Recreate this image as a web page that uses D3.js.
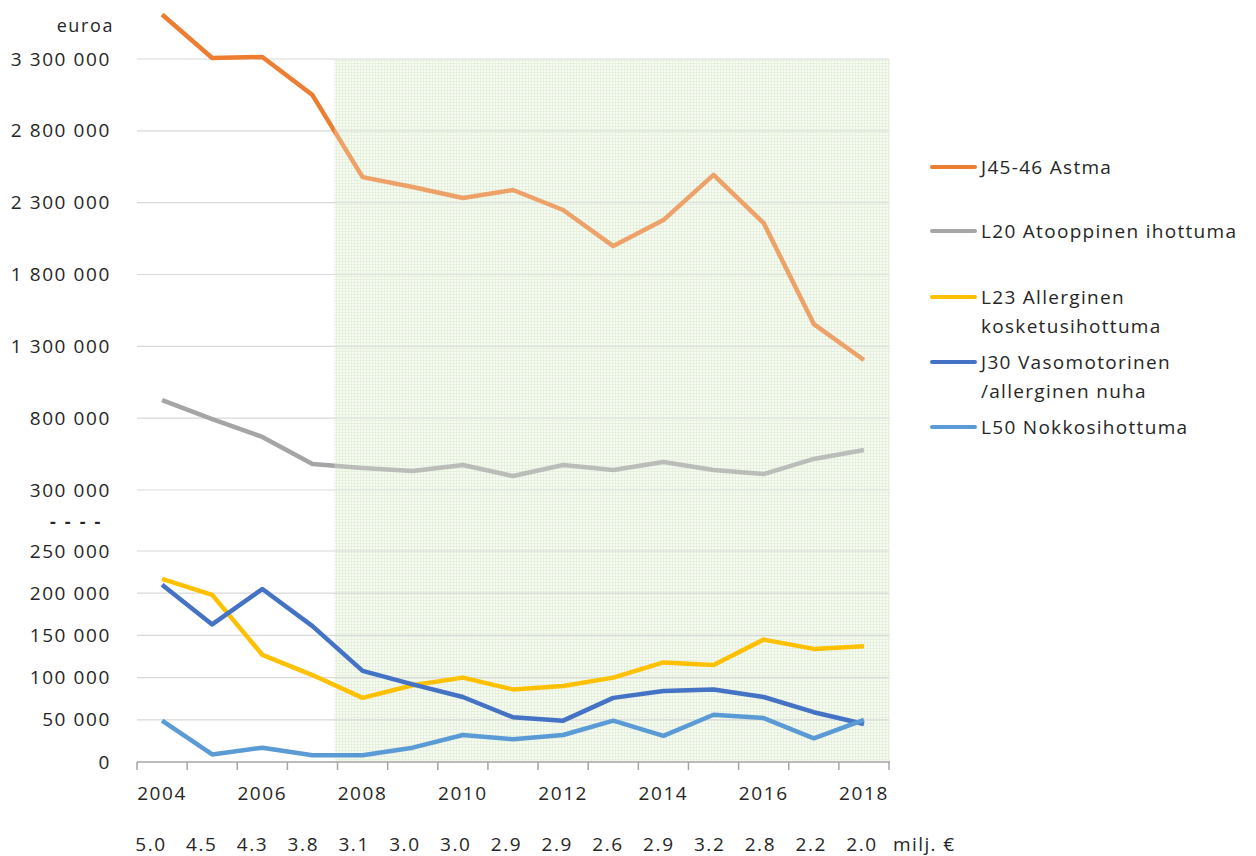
<!DOCTYPE html>
<html>
<head>
<meta charset="utf-8">
<script src="https://cdn.jsdelivr.net/npm/d3@7"></script>
<style>
  body { margin: 0; background: #fff; }
  text { font-family: "Open Sans", sans-serif; fill: #262626; }
</style>
</head>
<body>
<div id="chart"></div>
<script>
// data
const years = [2004, 2005, 2006, 2007, 2008, 2009, 2010, 2011, 2012, 2013, 2014, 2015, 2016, 2017, 2018];
const astma = [3610000, 3307000, 3314000, 3049000, 2478000, 2409000, 2332000, 2388000, 2249000, 1998000, 2179000, 2493000, 2158000, 1455000, 1205000];
const atooppinen = [926000, 794000, 669000, 481000, 453000, 432000, 474000, 397000, 474000, 439000, 495000, 439000, 411000, 516000, 578000];
const allerginen = [217000, 198000, 127000, 103000, 76000, 91000, 100000, 86000, 90000, 100000, 118000, 115000, 145000, 134000, 137000];
const vasomotorinen = [210000, 163000, 205000, 161000, 108000, 92000, 77000, 53000, 49000, 76000, 84000, 86000, 77000, 59000, 45000];
const nokkosihottuma = [49000, 9000, 17000, 8000, 8000, 17000, 32000, 27000, 32000, 49000, 31000, 56000, 52000, 28000, 50000];
const totals = ["5.0", "4.5", "4.3", "3.8", "3.1", "3.0", "3.0", "2.9", "2.9", "2.6", "2.9", "3.2", "2.8", "2.2", "2.0"];
const upperTicks = [300000, 800000, 1300000, 1800000, 2300000, 2800000, 3300000];
const lowerTicks = [0, 50000, 100000, 150000, 200000, 250000];

const upperSeries = [
  { name: "J45-46 Astma", values: astma, color: "#ED7D31" },
  { name: "L20 Atooppinen ihottuma", values: atooppinen, color: "#A5A5A5" }
];
const lowerSeries = [
  { name: "L23 Allerginen|kosketusihottuma", values: allerginen, color: "#FFC000" },
  { name: "J30 Vasomotorinen|/allerginen nuha", values: vasomotorinen, color: "#4472C4" },
  { name: "L50 Nokkosihottuma", values: nokkosihottuma, color: "#5B9BD5" }
];

const W = 1256, H = 856;
const left = 137, right = 889, bottom = 762;

const fmt = v => d3.format(",")(v).replace(/,/g, " ");

const x = d3.scaleBand().domain(years).range([left, right]);
const xc = d => x(d) + x.bandwidth() / 2;
const yUp = d3.scaleLinear().domain([300000, 3300000]).range([490, 59]);
const yLow = d3.scaleLinear().domain([0, 250000]).range([bottom, 551]);
const xTot = d3.scalePoint().domain(years).range([151, 862]);

const svg = d3.select("#chart").append("svg")
  .attr("width", W).attr("height", H);

// green grid pattern
const defs = svg.append("defs");
const pat = defs.append("pattern")
  .attr("id", "grid").attr("patternUnits", "userSpaceOnUse")
  .attr("width", 3).attr("height", 3);
pat.append("rect").attr("width", 3).attr("height", 3).attr("fill", "#f7fbf4");
pat.append("path").attr("d", "M0,0.5H3M0.5,0V3")
  .attr("stroke", "#e5f0dd").attr("stroke-width", 1);

const greenX0 = x(2008) - 3;
svg.append("rect")
  .attr("x", greenX0).attr("y", yUp(3300000))
  .attr("width", right + 1 - greenX0).attr("height", bottom - yUp(3300000))
  .attr("fill", "url(#grid)");

// gridlines
svg.append("g").selectAll("line")
  .data(upperTicks)
  .join("line")
    .attr("x1", left).attr("x2", right)
    .attr("y1", d => yUp(d)).attr("y2", d => yUp(d))
    .attr("stroke", "#d9d9d9").attr("stroke-width", 1.2);
svg.append("g").selectAll("line")
  .data(lowerTicks.filter(d => d > 0))
  .join("line")
    .attr("x1", left).attr("x2", right)
    .attr("y1", d => yLow(d)).attr("y2", d => yLow(d))
    .attr("stroke", "#d9d9d9").attr("stroke-width", 1.2);

// y labels
svg.append("g").selectAll("text")
  .data(upperTicks)
  .join("text")
    .attr("x", 111).attr("y", d => yUp(d))
    .attr("dy", "0.35em").attr("text-anchor", "end")
    .attr("font-size", 19).attr("letter-spacing", 1.6)
    .text(fmt);
svg.append("g").selectAll("text")
  .data(lowerTicks)
  .join("text")
    .attr("x", 111).attr("y", d => yLow(d))
    .attr("dy", "0.35em").attr("text-anchor", "end")
    .attr("font-size", 19).attr("letter-spacing", 1.6)
    .text(fmt);
svg.append("text").attr("x", 114).attr("y", 32)
  .attr("text-anchor", "end").attr("font-size", 18).attr("letter-spacing", 1.6)
  .text("euroa");
svg.append("text").attr("x", 50).attr("y", 528)
  .attr("font-size", 18).attr("font-weight", "bold").attr("letter-spacing", 2.2)
  .text("- - - -");

// lines
const lineUp = d3.line().x((d, i) => xc(years[i])).y(d => yUp(d));
const lineLow = d3.line().x((d, i) => xc(years[i])).y(d => yLow(d));

svg.append("g").selectAll("path")
  .data(upperSeries)
  .join("path")
    .attr("d", d => lineUp(d.values))
    .attr("fill", "none").attr("stroke", d => d.color)
    .attr("stroke-width", 4.5).attr("stroke-linejoin", "round");

// textured overlay on the upper lines inside the green area
svg.append("rect")
  .attr("x", greenX0).attr("y", yUp(3300000))
  .attr("width", right + 1 - greenX0).attr("height", 505 - yUp(3300000))
  .attr("fill", "url(#grid)").attr("opacity", 0.3);

svg.append("g").selectAll("path")
  .data(lowerSeries)
  .join("path")
    .attr("d", d => lineLow(d.values))
    .attr("fill", "none").attr("stroke", d => d.color)
    .attr("stroke-width", 4.5).attr("stroke-linejoin", "round");

// x axis
svg.append("line")
  .attr("x1", left).attr("x2", right + 1)
  .attr("y1", bottom).attr("y2", bottom)
  .attr("stroke", "#a6a6a6").attr("stroke-width", 1.5);
svg.append("g").selectAll("line")
  .data(years.concat([null]))
  .join("line")
    .attr("x1", d => d === null ? right : x(d))
    .attr("x2", d => d === null ? right : x(d))
    .attr("y1", bottom).attr("y2", bottom + 8)
    .attr("stroke", "#a6a6a6").attr("stroke-width", 1.5);
svg.append("g").selectAll("text")
  .data(years.filter(d => d % 2 === 0))
  .join("text")
    .attr("x", d => xc(d)).attr("y", 800)
    .attr("text-anchor", "middle").attr("font-size", 19).attr("letter-spacing", 1.6)
    .text(d => d);

// totals row
svg.append("g").selectAll("text")
  .data(years)
  .join("text")
    .attr("x", d => xTot(d)).attr("y", 851)
    .attr("text-anchor", "middle").attr("font-size", 19).attr("letter-spacing", 1.6)
    .attr("fill", "#000")
    .text((d, i) => totals[i]);
svg.append("text").attr("x", 893).attr("y", 851)
  .attr("font-size", 19).attr("letter-spacing", 1.4).attr("fill", "#000")
  .text("milj. €");

// legend
const legendY = [167, 231, 297, 362, 427];
const legend = svg.append("g").selectAll("g")
  .data(upperSeries.concat(lowerSeries))
  .join("g")
    .attr("transform", (d, i) => `translate(932,${legendY[i]})`);
legend.append("line")
  .attr("x1", 0).attr("x2", 43)
  .attr("stroke", d => d.color).attr("stroke-width", 4).attr("stroke-linecap", "round");
legend.append("text")
  .attr("x", 49).attr("font-size", 19).attr("letter-spacing", 1.3)
  .selectAll("tspan")
  .data(d => d.name.split("|"))
  .join("tspan")
    .attr("x", 49).attr("dy", (d, i) => i === 0 ? "0.35em" : "29px")
    .text(d => d);
</script>
</body>
</html>
